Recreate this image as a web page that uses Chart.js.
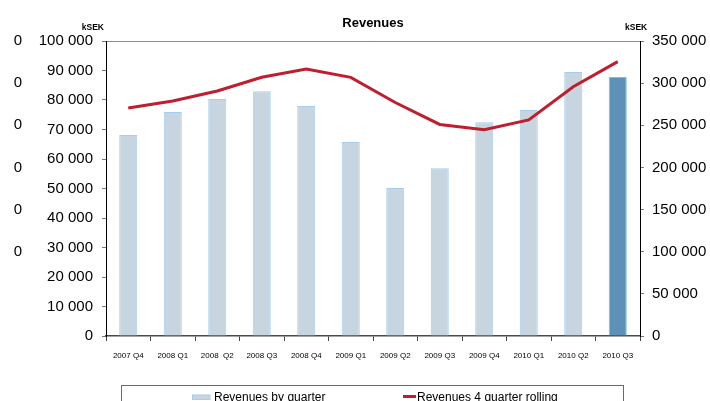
<!DOCTYPE html>
<html>
<head>
<meta charset="utf-8">
<script src="https://cdn.jsdelivr.net/npm/chart.js@4/dist/chart.umd.min.js"></script>
<style>
  html, body { margin: 0; padding: 0; background: #fff; overflow: hidden; }
  #c { display: block; }
</style>
</head>
<body>
<canvas id="c" width="710" height="401"></canvas>
<script>
// ---- Data ----
const categories = ["2007 Q4", "2008 Q1", "2008  Q2", "2008 Q3", "2008 Q4", "2009 Q1",
                    "2009 Q2", "2009 Q3", "2009 Q4", "2010 Q1", "2010 Q2", "2010 Q3"];
const revenuesByQuarter = [68100, 75900, 80300, 83000, 78000, 65800,
                           50200, 56900, 72500, 76600, 89500, 87800];
const revenuesRolling4Q = [270500, 278800, 290700, 306900, 316800, 306900,
                           277000, 251000, 244800, 256300, 295800, 325500];
const leftAxisMax = 100000, leftAxisStep = 10000;
const rightAxisMax = 350000, rightAxisStep = 50000;
const titleText = "Revenues";
const unitText = "kSEK";
const seriesNames = ["Revenues by quarter", "Revenues 4 quarter rolling"];

// ---- Styling ----
const FONT = "'Liberation Sans', Arial, Helvetica, sans-serif";
const barLight = '#C6D5DF', barLightBorder = '#A6CCF0';
const barDark = '#5D92B8', barDarkBorder = '#86B6DC';
const lineRed = '#BE1E2D';

function fmt(v) { return String(v).replace(/\B(?=(\d{3})+(?!\d))/g, ' '); }

const decorPlugin = {
  id: 'decor',
  afterDraw(chart) {
    const ctx = chart.ctx;
    const ca = chart.chartArea;
    ctx.save();
    // title
    ctx.fillStyle = '#000';
    ctx.font = 'bold 13px ' + FONT;
    ctx.textAlign = 'center';
    ctx.textBaseline = 'alphabetic';
    ctx.fillText(titleText, (ca.left + ca.right) / 2, 27);
    // unit labels
    ctx.font = 'bold 8.5px ' + FONT;
    ctx.textAlign = 'right';
    ctx.fillText(unitText, 104, 30);
    ctx.textAlign = 'left';
    ctx.fillText(unitText, 625, 30);

    // legend (from datasets)
    const ds = chart.data.datasets;
    ctx.strokeStyle = '#6a6a6a';
    ctx.lineWidth = 1;
    ctx.strokeRect(121.5, 385.5, 502, 40);
    ctx.font = '12px ' + FONT;
    ctx.textAlign = 'left';
    // item 1: bar swatch
    ctx.fillStyle = barLight;
    ctx.fillRect(192, 395, 18, 4.5);
    ctx.strokeStyle = barLightBorder;
    ctx.strokeRect(192.5, 395, 17.5, 4.5);
    ctx.fillStyle = '#000';
    ctx.fillText(ds[1].label, 214, 401.3);
    // item 2: line swatch
    ctx.strokeStyle = lineRed;
    ctx.lineWidth = 3;
    ctx.beginPath();
    ctx.moveTo(403, 396.5);
    ctx.lineTo(416, 396.5);
    ctx.stroke();
    ctx.fillStyle = '#000';
    ctx.fillText(ds[0].label, 417, 401.3);
    ctx.restore();
  }
};

new Chart(document.getElementById('c'), {
  data: {
    labels: categories,
    datasets: [
      {
        type: 'line',
        label: seriesNames[1],
        data: revenuesRolling4Q,
        yAxisID: 'y1',
        borderColor: lineRed,
        borderWidth: 3,
        pointRadius: 0,
        tension: 0,
        fill: false,
        order: 0
      },
      {
        type: 'bar',
        label: seriesNames[0],
        data: revenuesByQuarter,
        yAxisID: 'y',
        backgroundColor: c => c.dataIndex === categories.length - 1 ? barDark : barLight,
        borderColor: c => c.dataIndex === categories.length - 1 ? barDarkBorder : barLightBorder,
        borderWidth: 1,
        barPercentage: 0.405,
        categoryPercentage: 1,
        order: 1
      }
    ]
  },
  options: {
    responsive: false,
    animation: false,
    devicePixelRatio: 1,
    layout: { padding: { top: 41, left: 0, right: 0, bottom: 0 } },
    plugins: {
      legend: { display: false },
      title: { display: false },
      tooltip: { enabled: false }
    },
    scales: {
      x: {
        type: 'category',
        grid: { offset: true, drawOnChartArea: false, drawTicks: true, tickLength: 5, color: '#444' },
        border: { color: '#4a4a4a', width: 1.5 },
        ticks: { font: { size: 8, family: FONT }, color: '#000', padding: 10, maxRotation: 0, autoSkip: false },
        afterFit: s => { s.height = 65; }
      },
      y: {
        type: 'linear',
        position: 'left',
        weight: 0,
        min: 0, max: leftAxisMax,
        grid: {
          drawOnChartArea: true,
          color: c => (c.tick && c.tick.value === leftAxisMax ? '#8c8c8c' : 'rgba(0,0,0,0)'),
          tickColor: '#7a7a7a',
          tickLength: 4
        },
        border: { color: '#000', width: 1 },
        ticks: { stepSize: leftAxisStep, autoSkip: false, callback: v => fmt(v), font: { size: 15, family: FONT }, color: '#000', padding: 9 },
        afterFit: s => { s.width = 76; }
      },
      z: {
        type: 'linear',
        position: 'left',
        weight: 5,
        min: 0, max: 7,
        grid: { display: false, drawTicks: false },
        border: { display: false },
        ticks: { stepSize: 1, autoSkip: false, callback: v => (v >= 2 ? '0' : ''), font: { size: 15, family: FONT }, color: '#000', padding: 8 },
        afterFit: s => { s.width = 30; }
      },
      y1: {
        type: 'linear',
        position: 'right',
        min: 0, max: rightAxisMax,
        grid: { drawOnChartArea: false, tickColor: '#7a7a7a', tickLength: 4 },
        border: { color: '#000', width: 1 },
        ticks: { stepSize: rightAxisStep, autoSkip: false, callback: v => fmt(v), font: { size: 15, family: FONT }, color: '#000', padding: 8 },
        afterFit: s => { s.width = 70; }
      }
    }
  },
  plugins: [decorPlugin]
});
</script>
</body>
</html>
